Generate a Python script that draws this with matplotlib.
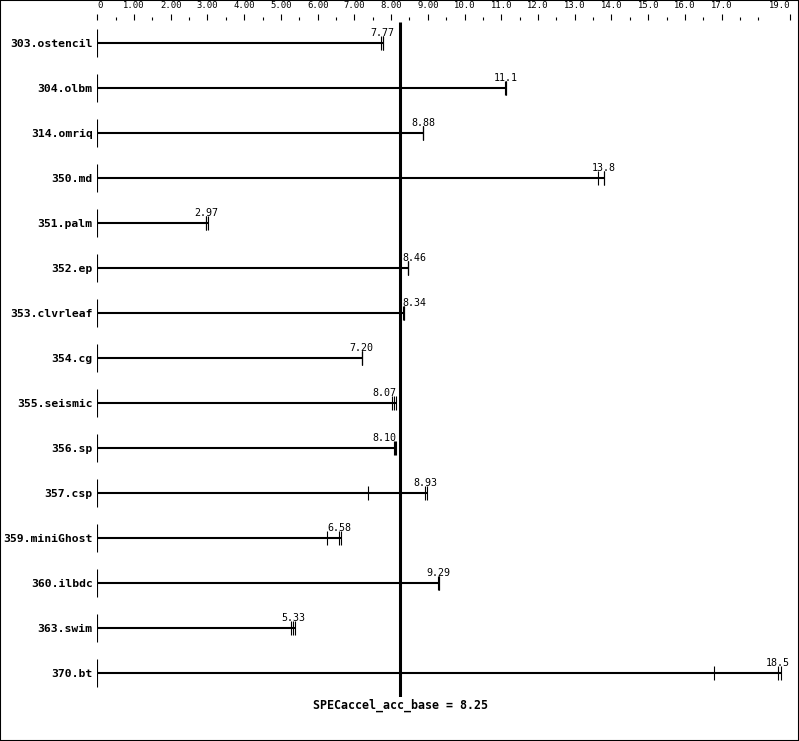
import matplotlib.pyplot as plt
from matplotlib.patches import Rectangle

benchmarks = ['303.ostencil', '304.olbm', '314.omriq', '350.md', '351.palm',
              '352.ep', '353.clvrleaf', '354.cg', '355.seismic', '356.sp',
              '357.csp', '359.miniGhost', '360.ilbdc', '363.swim', '370.bt']
ratio_labels = ['7.77', '11.1', '8.88', '13.8', '2.97', '8.46', '8.34', '7.20',
                '8.07', '8.10', '8.93', '6.58', '9.29', '5.33', '18.5']
# three runs per benchmark (middle one is the median)
run_lo = [7.72, 11.10, 8.88, 13.62, 2.96, 8.46, 8.32, 7.20, 8.02, 8.08, 7.38, 6.26, 9.28, 5.28, 16.79]
run_med = [7.77, 11.12, 8.88, 13.80, 2.97, 8.46, 8.34, 7.20, 8.07, 8.10, 8.93, 6.58, 9.29, 5.33, 18.52]
run_hi = [7.78, 11.14, 8.88, 13.80, 3.01, 8.46, 8.36, 7.20, 8.13, 8.12, 8.98, 6.63, 9.30, 5.38, 18.61]
base_mean = 8.25
mean_label = 'SPECaccel_acc_base = 8.25'

major_ticks = [0, 1, 2, 3, 4, 5, 6, 7, 8, 9, 10, 11, 12, 13, 14, 15, 16, 17, 18.86]
major_labels = ['0', '1.00', '2.00', '3.00', '4.00', '5.00', '6.00', '7.00', '8.00',
                '9.00', '10.0', '11.0', '12.0', '13.0', '14.0', '15.0', '16.0', '17.0',
                '19.0']
minor_ticks = [k + 0.5 for k in range(18)] + [18.0]

W, H = 799, 741
x0, x1 = 97.3, 790.0
ytop, ybot = 20.0, 697.0
row0, step = 43.0, 45.0

plt.rcParams['font.family'] = ['DejaVu Sans Mono']
fig = plt.figure(figsize=(W / 100, H / 100), dpi=100)
ax = fig.add_axes([x0 / W, 1 - ybot / H, (x1 - x0) / W, (ybot - ytop) / H])
ax.set_xlim(0, 18.86)
y_lo = (ybot - row0) / step
y_hi = (ytop - row0) / step
ax.set_ylim(y_lo, y_hi)
for s in ax.spines.values():
    s.set_visible(False)

ax.xaxis.set_ticks_position('top')
ax.set_xticks(major_ticks)
ax.set_xticklabels(major_labels)
ax.set_xticks(minor_ticks, minor=True)
ax.tick_params(axis='x', which='major', length=4.3, width=0.8, pad=3.2, labelsize=6.4)
ax.tick_params(axis='x', which='minor', length=2.4, width=0.8)
tl = ax.get_xticklabels()
tl[0].set_ha('left')
tl[-1].set_ha('right')

ax.set_yticks(range(len(benchmarks)))
ax.set_yticklabels(benchmarks, fontweight='bold', fontsize=8.2)
ax.tick_params(axis='y', length=0, pad=3.3)

# mean line
ax.vlines(base_mean, (22 - row0) / step, y_lo, colors='black', linewidth=2.2)
ax.text(base_mean, (705 - row0) / step, mean_label, ha='center', va='center',
        fontsize=8.4, fontweight='bold', clip_on=False)

hw = 0.32
for i in range(len(benchmarks)):
    runs = [run_lo[i], run_med[i], run_hi[i]]
    ax.vlines(0, i - 0.31, i + 0.31, colors='black', linewidth=0.8)
    ax.hlines(i, 0, max(runs), colors='black', linewidth=1.5)
    ax.vlines(runs, i - 0.152, i + 0.152, colors='black', linewidth=0.8)
    m = run_med[i]
    if m >= base_mean and m - hw < base_mean + 0.05:
        xt, ha = base_mean + 0.05, 'left'
    elif m < base_mean and m + hw > base_mean - 0.1:
        xt, ha = base_mean - 0.1, 'right'
    else:
        xt, ha = m, 'center'
    ax.text(xt, i - 0.16, ratio_labels[i], ha=ha, va='baseline', fontsize=7.2)

fig.patches.append(Rectangle((0, 0), 1, 1, transform=fig.transFigure,
                             fill=False, edgecolor='black', linewidth=1.5))
fig.savefig('out.png', dpi=100)
